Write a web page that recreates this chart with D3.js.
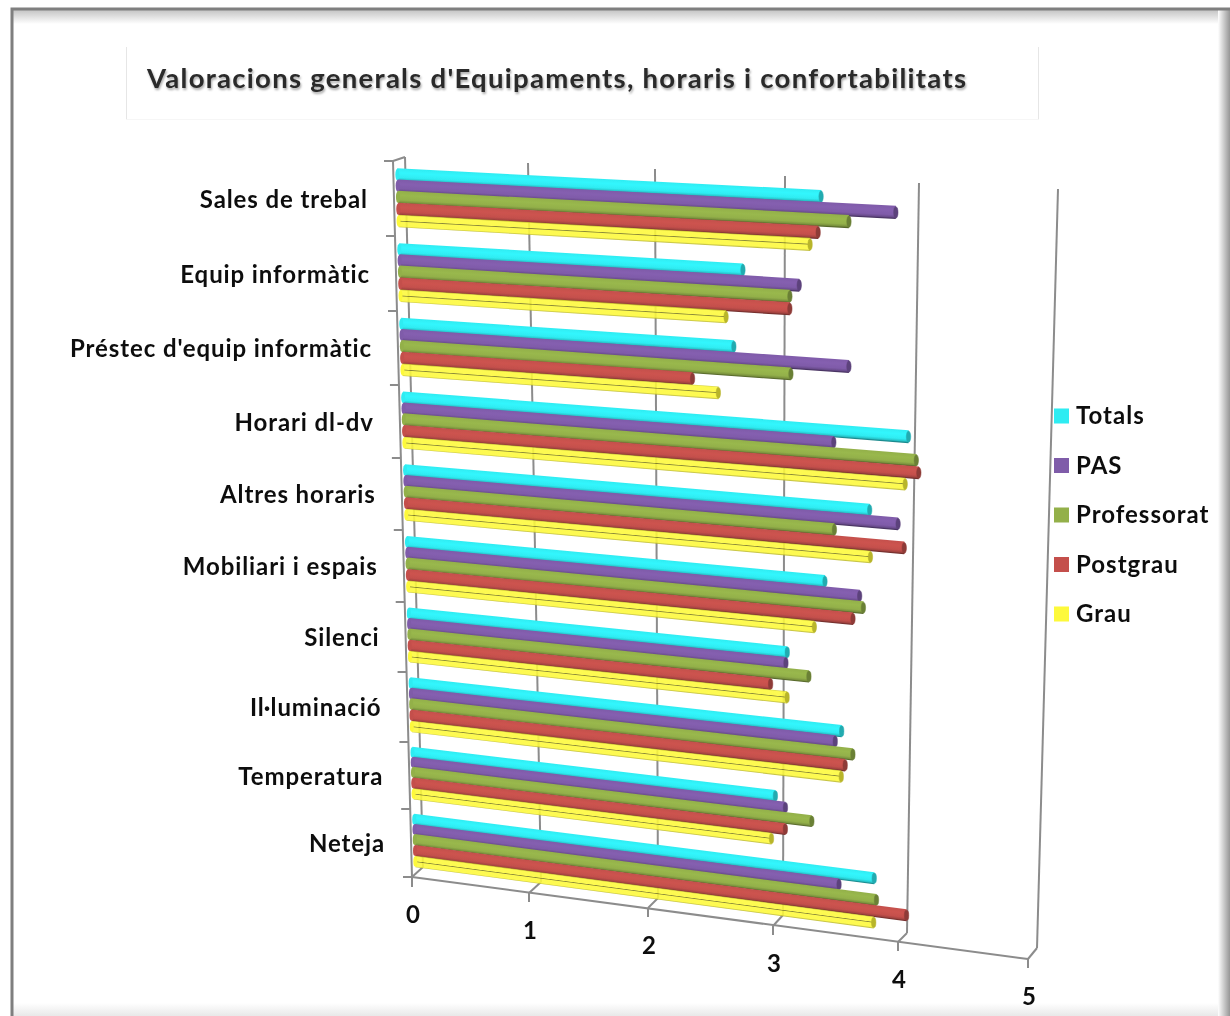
<!DOCTYPE html>
<html><head><meta charset="utf-8">
<script src="https://cdn.jsdelivr.net/npm/d3@7/dist/d3.min.js"></script>
<style>html,body{margin:0;padding:0;background:#fff}svg{display:block}text{font-family:Lato,Carlito,"Open Sans",sans-serif}</style>
</head><body><svg id="c" width="1230" height="1016"></svg>
<script>
const title = "Valoracions generals d'Equipaments, horaris i confortabilitats";
const categories = ["Sales de trebal","Equip informàtic","Préstec d'equip informàtic","Horari dl-dv","Altres horaris","Mobiliari i espais","Silenci","Il·luminació","Temperatura","Neteja"];
const seriesNames = ["Totals","PAS","Professorat","Postgrau","Grau"];
const seriesColors = ["#2fecf2","#7f5ba9","#93b04a","#c4504c","#fdf93a"];
const totals      = [3.32,2.73,2.66,4.00,3.71,3.37,3.08,3.51,2.99,3.78];
const pas         = [3.88,3.16,3.54,3.43,3.93,3.64,3.07,3.46,3.07,3.50];
const professorat = [3.53,3.09,3.10,4.06,3.44,3.67,3.25,3.60,3.28,3.80];
const postgrau    = [3.30,3.09,2.34,4.08,3.98,3.59,2.95,3.54,3.07,4.04];
const grau        = [3.24,2.60,2.54,3.98,3.72,3.29,3.08,3.51,2.96,3.78];
const seriesValues = [totals,pas,professorat,postgrau,grau];
const valueTicks = [0,1,2,3,4,5];

// perspective calibration of the 3-D box
const bandEdges = [161,236,311,385,458,530,602,672,742,809,877];
const rowY = d3.scaleLinear().domain(d3.range(11)).range(bandEdges);
const tOf = d3.scaleLinear().domain([161,877]).range([0,1]);
const backTopX = d3.scaleLinear().domain(valueTicks).range([405,528,655,785,919,1058]);
const backTopY = d3.scaleLinear().domain(valueTicks).range([157,163,169,176,183,189]);
const backBotX = d3.scaleLinear().domain(valueTicks).range([423,541,658,783,907,1037]);
const backBotY = d3.scaleLinear().domain(valueTicks).range([867,882,898,915,933,948]);
const frontBotX = d3.scaleLinear().domain(valueTicks).range([412,529,648,773,898,1028]);
const frontBotY = d3.scaleLinear().domain(valueTicks).range([877,893,908,926,942,959]);
const frontTopX = d3.scaleLinear().domain(valueTicks).range([393,516,644,775,909,1048]);
const frontTopY = d3.scaleLinear().domain(valueTicks).range([161,167,173,180,187,193]);
const mix=(a,b,k)=>a+(b-a)*k;
function project(v,r,d){
  const t=tOf(rowY(r));
  const fx=mix(frontTopX(v),frontBotX(v),t), fy=mix(frontTopY(v),frontBotY(v),t);
  const bx=mix(backTopX(v),backBotX(v),t), by=mix(backTopY(v),backBotY(v),t);
  return [mix(fx,bx,d),mix(fy,by,d)];
}
const DEPTH=0.33, BAR=0.168;
const offsets=[0.2,0.35,0.5,0.66,0.82];

const svg=d3.select("#c");
const defs=svg.append("defs");
defs.append("filter").attr("id","soft").attr("x","-5%").attr("y","-5%").attr("width","110%").attr("height","110%")
  .append("feGaussianBlur").attr("stdDeviation",0.55);
defs.append("filter").attr("id","softL").attr("x","-5%").attr("y","-5%").attr("width","110%").attr("height","110%")
  .append("feGaussianBlur").attr("stdDeviation",0.4);
defs.append("filter").attr("id","softT").append("feGaussianBlur").attr("stdDeviation",0.8);
function shade(id,x1,y1,x2,y2,c1,c2){
  const g=defs.append("linearGradient").attr("id",id).attr("x1",x1).attr("y1",y1).attr("x2",x2).attr("y2",y2);
  g.append("stop").attr("offset",0).attr("stop-color",c1);
  g.append("stop").attr("offset",1).attr("stop-color",c2);
}
shade("fT",0,0,0,1,"#c0c0c0","#ffffff");
shade("fR",0,0,1,0,"#ffffff","#969696");
shade("fB",0,0,0,1,"#ffffff","#e8e8e8");

// frame
svg.append("rect").attr("width",1230).attr("height",1016).attr("fill","#fff");
svg.append("rect").attr("x",12).attr("y",9).attr("width",1218).attr("height",15).attr("fill","url(#fT)");
svg.append("rect").attr("x",12).attr("y",1003).attr("width",1218).attr("height",13).attr("fill","url(#fB)");
svg.append("rect").attr("x",1218).attr("y",9).attr("width",12).attr("height",1007).attr("fill","url(#fR)");
svg.append("path").attr("d","M12,1016V9H1230").attr("fill","none").attr("stroke","#7f7f7f").attr("stroke-width",3);

// title box
svg.append("path").attr("d","M126.5,47V119.5M1038.5,47V119.5").attr("fill","none").attr("stroke","#e6e6e6").attr("stroke-width",1);
svg.append("path").attr("d","M126.5,119.5H1038.5").attr("fill","none").attr("stroke","#f6f6f6").attr("stroke-width",1);
const titleG=svg.append("g");
titleG.append("text").attr("x",148).attr("y",90).attr("font-size",27.5).attr("font-weight",700).attr("fill","#aaa").attr("textLength",819).attr("filter","url(#softT)").text(title);
titleG.append("text").attr("x",147).attr("y",88).attr("font-size",27.5).attr("font-weight",700).attr("fill","#2a2a2a").attr("textLength",819).attr("filter","url(#softL)").text(title);

const g=svg.append("g").attr("filter","url(#soft)");
const gridC="#8c8c8c";
const line=d3.line();
function seg(a,b,w){g.append("path").attr("d",line([a,b])).attr("fill","none").attr("stroke",gridC).attr("stroke-width",w||2);}
// back gridlines, floor connectors, ticks
valueTicks.forEach(v=>{
  seg(project(v,0,1),project(v,10,1));
  seg(project(v,10,1),project(v,10,0));
  const f=project(v,10,0);
  seg(f,[f[0],f[1]+ (v===0?10:9)]);
});
// floor and left axes
seg(project(0,10,0),project(5,10,0));
seg(project(0,0,0),project(0,10,0));
seg(project(0,0,0),project(0,0,1));
d3.range(11).forEach(r=>{const p=project(0,r,0);seg(p,[p[0]-9,p[1]]);});

// bars
categories.forEach((cat,i)=>{
  seriesNames.forEach((name,s)=>{
    const v=seriesValues[s][i], col=d3.color(seriesColors[s]);
    const r0=i+offsets[s]-BAR/2, r1=i+offsets[s]+BAR/2;
    const a=project(0,r0,DEPTH),b=project(v,r0,DEPTH),c=project(v,r1,DEPTH),e=project(0,r1,DEPTH);
    // gradient vector perpendicular to the bar
    const mx=(a[0]+b[0])/2,my=(a[1]+b[1])/2,dx=b[0]-a[0],dy=b[1]-a[1],len=Math.hypot(dx,dy);
    const th=Math.hypot(e[0]-a[0],e[1]-a[1]);
    const id=`b${i}_${s}`;
    const gr=defs.append("linearGradient").attr("id",id).attr("gradientUnits","userSpaceOnUse")
      .attr("x1",mx).attr("y1",my).attr("x2",mx-dy/len*th).attr("y2",my+dx/len*th);
    const stops=s===4
      ?[[0,col.darker(0.6)],[0.1,col],[0.44,col],[0.5,col.darker(2)],[0.58,col],[0.9,col],[1,col.darker(0.8)]]
      :[[0,col],[0.35,col.brighter(0.12)],[0.72,col],[0.9,col.darker(0.5)],[1,col.darker(1.5)]];
    stops.forEach(st=>gr.append("stop").attr("offset",st[0]).attr("stop-color",st[1]));
    g.append("path").attr("d",line([a,b,c,e])+"Z").attr("fill",`url(#${id})`).attr("fill-opacity",s===4?0.88:1);
    const cp=[(b[0]+c[0])/2,(b[1]+c[1])/2];
    g.append("ellipse").attr("cx",cp[0]).attr("cy",cp[1]).attr("rx",2.2).attr("ry",th/2-0.5)
      .attr("fill",col.darker(0.9)).attr("stroke",col.darker(0.9)).attr("stroke-width",0.5);
    const l=project(0,i+offsets[s],DEPTH);
    g.append("ellipse").attr("cx",l[0]).attr("cy",l[1]).attr("rx",2).attr("ry",th/2-0.5).attr("fill",col);
  });
});

// labels
const labelFill="#111";
const labels=svg.append("g").attr("filter","url(#softL)");
categories.forEach((cat,i)=>{
  const p=project(0,i+0.5,0);
  labels.append("text").attr("x",p[0]-26).attr("y",p[1]+9).attr("text-anchor","end").attr("letter-spacing",0.9)
    .attr("font-size",24).attr("font-weight",700).attr("fill",labelFill).text(cat);
});
valueTicks.forEach(v=>{
  const p=project(v,10,0);
  labels.append("text").attr("x",p[0]+1).attr("y",p[1]+46).attr("text-anchor","middle")
    .attr("font-size",24).attr("font-weight",700).attr("fill",labelFill).text(v);
});
// legend
const legendY=d3.scalePoint().domain(seriesNames).range([416,614]);
seriesNames.forEach((n,s)=>{
  const y=legendY(n);
  labels.append("rect").attr("x",1054).attr("y",y-7.5).attr("width",15).attr("height",15).attr("fill",seriesColors[s]);
  labels.append("text").attr("x",1076).attr("y",y+8).attr("font-size",24).attr("font-weight",700).attr("letter-spacing",1).attr("fill",labelFill).text(n);
});
</script></body></html>
